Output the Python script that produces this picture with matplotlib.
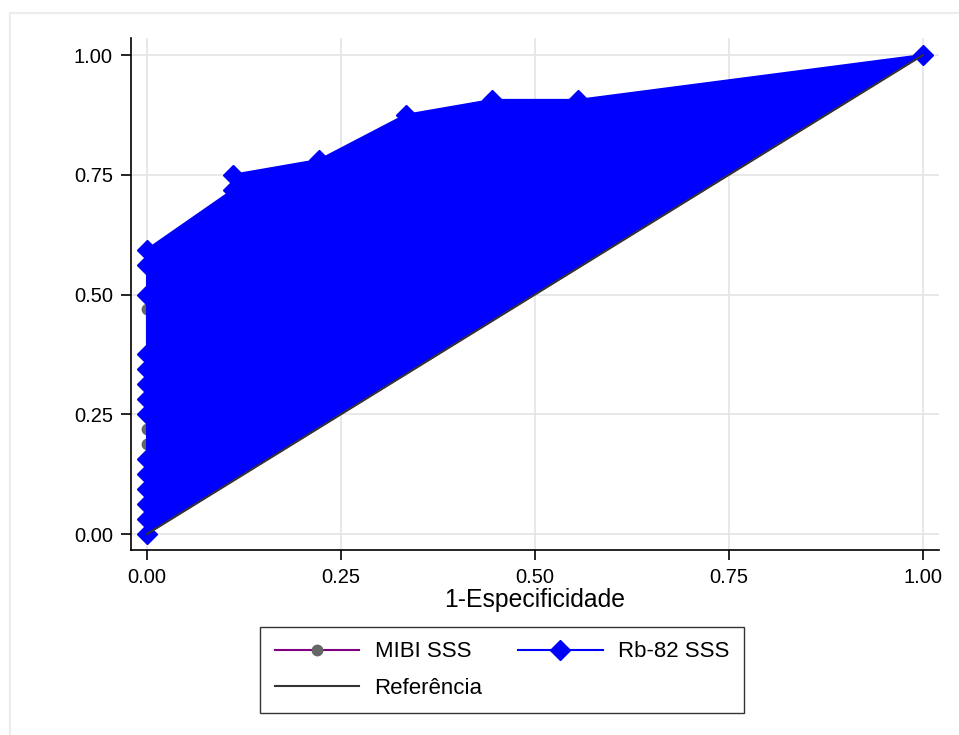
import matplotlib
matplotlib.use("Agg")
import matplotlib.pyplot as plt
from matplotlib.lines import Line2D
from matplotlib.patches import Rectangle
import numpy as np

plt.rcParams['font.family'] = ['Liberation Sans', 'DejaVu Sans']

# ROC points (1-specificity, sensitivity); 9 negatives, 32 positives
rb_fpr = np.array([0, 0, 0, 0, 0, 0, 0, 0, 0, 0, 0, 0, 0, 0,
                   1, 1, 2, 3, 4, 5, 9]) / 9
rb_tpr = np.array([0, 1, 2, 3, 4, 5, 8, 9, 10, 11, 12, 16, 18, 19,
                   23, 24, 25, 28, 29, 29, 32]) / 32

# MIBI curve is almost fully hidden beneath the Rb-82 area
mibi_fpr = np.array([0, 0, 0, 0, 0, 9]) / 9
mibi_tpr = np.array([0, 6, 7, 11, 15, 32]) / 32

ticks = [0, 0.25, 0.5, 0.75, 1.0]
tick_labels = ['0.00', '0.25', '0.50', '0.75', '1.00']

fig = plt.figure(figsize=(9.59, 7.35), dpi=100)
ax = fig.add_axes([131 / 959, 1 - 550 / 735, (939 - 131) / 959, (550 - 38) / 735])

# MIBI (drawn first, under the blue area)
ax.fill(mibi_fpr, mibi_tpr, color='#800080', zorder=2)
ax.plot(mibi_fpr, mibi_tpr, color='#800080', lw=1.5, marker='o',
        markersize=7.5, markerfacecolor='#666666', markeredgecolor='#666666', zorder=2)

# Rb-82 area between curve and diagonal
ax.fill(rb_fpr, rb_tpr, color='#0000ff', lw=0, zorder=3)
ax.plot(rb_fpr, rb_tpr, color='#0000ff', lw=1.5, marker='D',
        markersize=10, markerfacecolor='#0000ff', markeredgecolor='#0000ff', zorder=4)

# reference line
ax.plot([0, 1], [0, 1], color='#333333', lw=1.5, zorder=5)

ax.set_xlim(-16 / 776, 1 + 16 / 776)
ax.set_ylim(-16 / 479, 1 + 17 / 479)
ax.set_xticks(ticks)
ax.set_xticklabels(tick_labels)
ax.set_yticks(ticks)
ax.set_yticklabels(tick_labels)
ax.tick_params(axis='both', direction='out', length=7, width=1.2, labelsize=14.5, pad=6)
ax.grid(True, color='#e6e6e6', lw=1.3, zorder=0)
ax.set_axisbelow(True)
for s in ['top', 'right']:
    ax.spines[s].set_visible(False)
for s in ['left', 'bottom']:
    ax.spines[s].set_linewidth(1.2)
ax.set_xlabel('1-Especificidade', fontsize=17.8, labelpad=1)

handles = [
    Line2D([], [], color='#800080', lw=1.5, marker='o', markersize=7.5,
           markerfacecolor='#666666', markeredgecolor='#666666'),
    Line2D([], [], color='#333333', lw=1.5),
    Line2D([], [], color='#0000ff', lw=1.5, marker='D', markersize=10,
           markerfacecolor='#0000ff', markeredgecolor='#0000ff'),
]
labels = ['MIBI SSS', 'Referência', 'Rb-82 SSS']
leg = fig.legend(handles, labels, ncol=2, loc='upper center',
                 bbox_to_anchor=(502 / 959, 1 - 627 / 735), fontsize=16,
                 frameon=True, fancybox=False, edgecolor='black',
                 handlelength=3.8, columnspacing=1.6, handletextpad=0.7,
                 borderpad=0.65, labelspacing=0.69, borderaxespad=0)
leg.get_frame().set_linewidth(1.0)

# faint outer frame of the graph region
fig.patches.append(Rectangle((10 / 959, -0.05), 1.1, 1 - 13 / 735 + 0.05,
                             transform=fig.transFigure, fill=False,
                             edgecolor='#ececec', lw=1.5))

fig.savefig('out.png', dpi=100)
